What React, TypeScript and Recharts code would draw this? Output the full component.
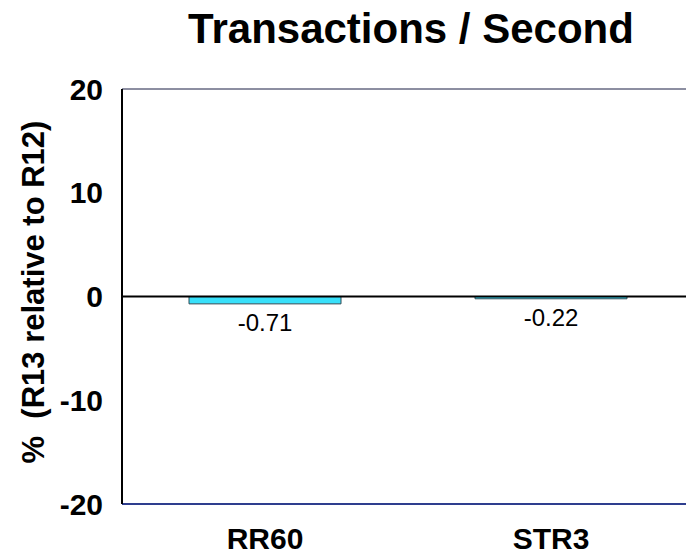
import React from "react";
import {
  BarChart,
  Bar,
  XAxis,
  YAxis,
  ReferenceLine,
  LabelList,
} from "recharts";

const categories = ["RR60", "STR3"];
const changes = [-0.71, -0.22];
const yTicks = [-20, -10, 0, 10, 20];

const data = categories.map((name, i) => ({ name, value: changes[i] }));

const FONT = "'Liberation Sans', Arial, Helvetica, sans-serif";

const ValueLabel = (props: any) => {
  const { x, y, width, height, value } = props;
  const bottom = Math.max(Number(y), Number(y) + Number(height));
  return (
    <text
      x={Number(x) + Number(width) / 2}
      y={bottom + 27}
      textAnchor="middle"
      fontFamily={FONT}
      fontSize={24}
      fill="#000"
    >
      {Number(value).toFixed(2)}
    </text>
  );
};

export default function App() {
  return (
    <div
      style={{
        position: "absolute",
        left: 0,
        top: 0,
        width: 686,
        height: 555,
        overflow: "hidden",
        background: "#fff",
      }}
    >
      <BarChart
        width={694}
        height={555}
        data={data}
        margin={{ top: 89, right: 0, left: 0, bottom: 0 }}
        barSize={152}
      >
        <XAxis
          dataKey="name"
          height={51}
          axisLine={{ stroke: "#2E3E8E", strokeWidth: 2 }}
          tickLine={false}
          tickSize={0}
          tickMargin={24}
          tick={{ fill: "#000", fontSize: 30, fontWeight: 700, fontFamily: FONT }}
          interval={0}
        />
        <YAxis
          width={122}
          domain={[-20, 20]}
          ticks={yTicks}
          allowDataOverflow
          axisLine={{ stroke: "#000", strokeWidth: 2 }}
          tickLine={false}
          tickSize={0}
          tickMargin={19}
          tick={{ fill: "#000", fontSize: 30, fontWeight: 700, fontFamily: FONT }}
        />
        <Bar
          dataKey="value"
          fill="#38E0FA"
          stroke="#2F4A55"
          strokeWidth={1}
          isAnimationActive={false}
        >
          <LabelList dataKey="value" content={ValueLabel} />
        </Bar>
        <ReferenceLine y={20} stroke="#1B1F45" strokeWidth={1} />
        <ReferenceLine y={0} stroke="#000" strokeWidth={2} />
      </BarChart>
      <svg
        width={686}
        height={555}
        style={{ position: "absolute", left: 0, top: 0, pointerEvents: "none" }}
      >
        <text
          x={411}
          y={43}
          textAnchor="middle"
          fontFamily={FONT}
          fontSize={42}
          fontWeight={700}
          fill="#000"
        >
          Transactions / Second
        </text>
        <text
          x={44}
          y={292}
          textAnchor="middle"
          fontFamily={FONT}
          fontSize={31}
          fontWeight={700}
          fill="#000"
          transform="rotate(-90, 44, 292)"
          style={{ whiteSpace: "pre" }}
        >
          {"%  (R13 relative to R12)"}
        </text>
      </svg>
    </div>
  );
}
